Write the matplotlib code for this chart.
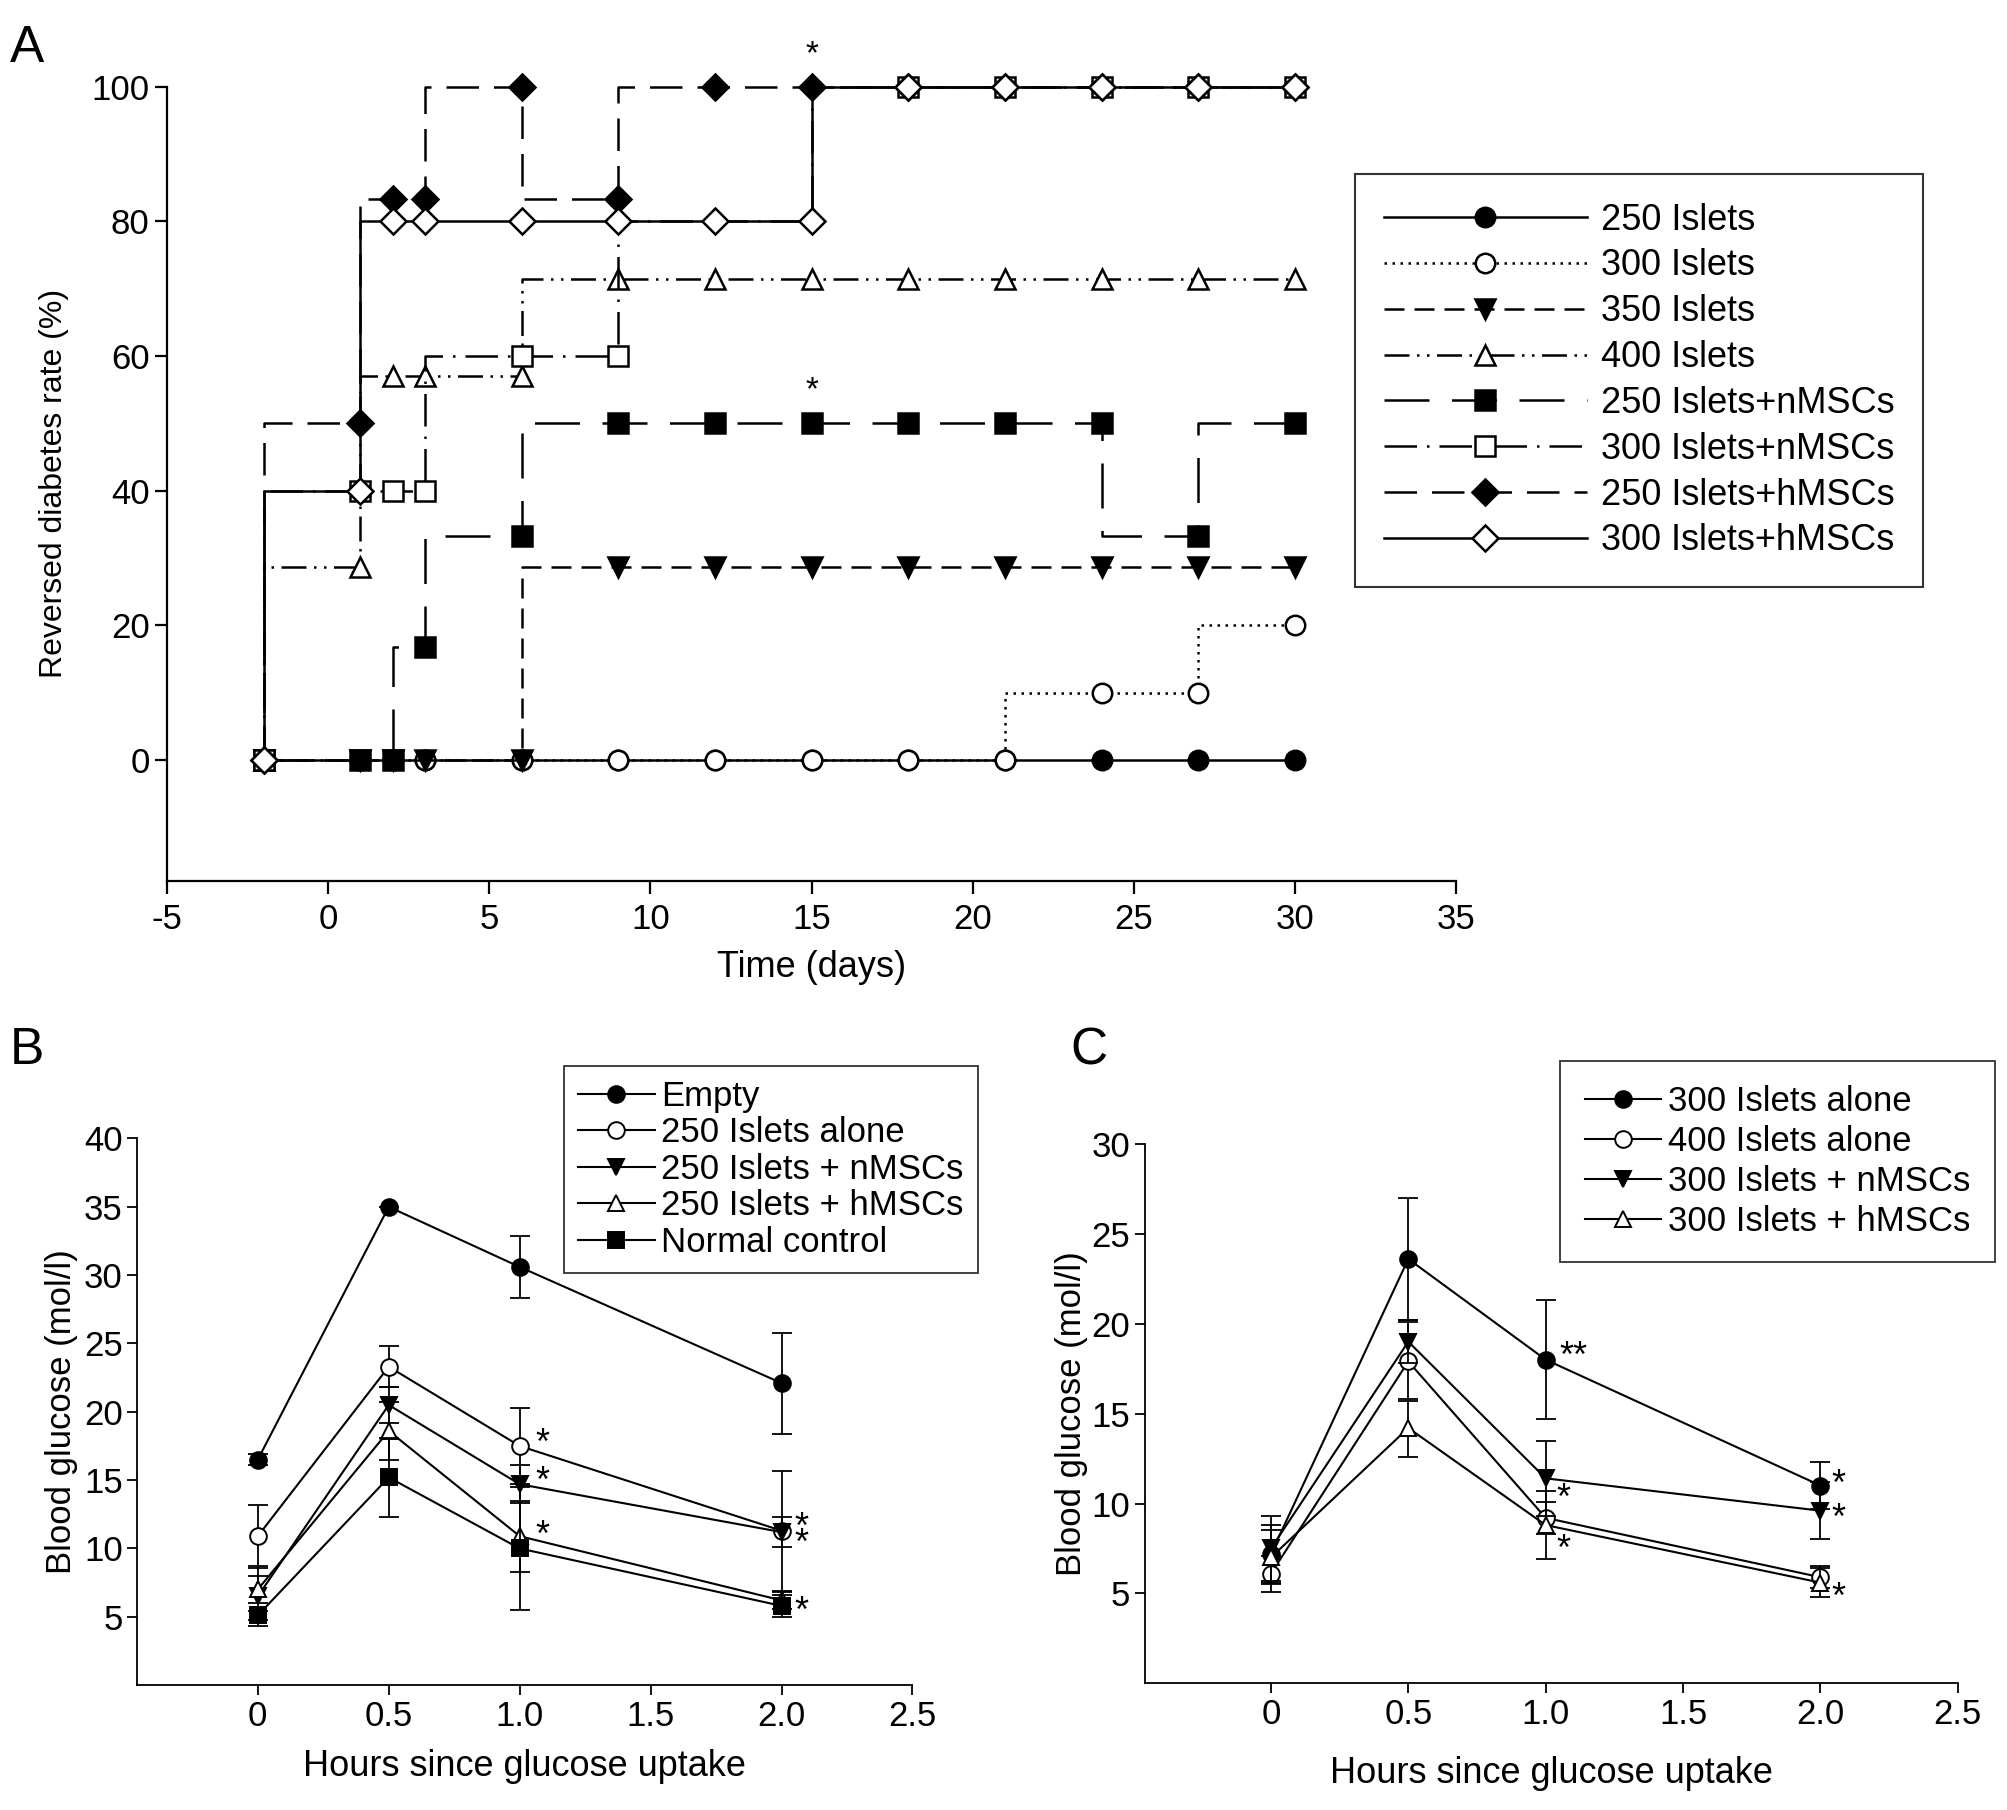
import matplotlib
matplotlib.use("Agg")
import matplotlib.pyplot as plt

plt.rcParams['font.family'] = ['Liberation Sans', 'DejaVu Sans']
plt.rcParams['axes.unicode_minus'] = False

# ---- Panel A: reversed diabetes rate ----
days = [-2, 1, 2, 3, 6, 9, 12, 15, 18, 21, 24, 27, 30]
a_labels = ['250 Islets', '300 Islets', '350 Islets', '400 Islets',
            '250 Islets+nMSCs', '300 Islets+nMSCs', '250 Islets+hMSCs', '300 Islets+hMSCs']
islets250 = [0, 0, 0, 0, 0, 0, 0, 0, 0, 0, 0, 0, 0]
islets300 = [0, 0, 0, 0, 0, 0, 0, 0, 0, 0, 10, 10, 20]
islets350 = [0, 0, 0, 0, 0, 28.6, 28.6, 28.6, 28.6, 28.6, 28.6, 28.6, 28.6]
islets400 = [0, 28.6, 57.1, 57.1, 57.1, 71.4, 71.4, 71.4, 71.4, 71.4, 71.4, 71.4, 71.4]
n250 = [0, 0, 0, 16.7, 33.3, 50, 50, 50, 50, 50, 50, 33.3, 50]
n300 = [0, 40, 40, 40, 60, 60, 80, 80, 100, 100, 100, 100, 100]
h250 = [0, 50, 83.3, 83.3, 100, 83.3, 100, 100, 100, 100, 100, 100, 100]
h300 = [0, 40, 80, 80, 80, 80, 80, 80, 100, 100, 100, 100, 100]
a_series = [islets250, islets300, islets350, islets400, n250, n300, h250, h300]

# ---- Panel B ----
hours = [0, 0.5, 1.0, 2.0]
b_labels = ['Empty', '250 Islets alone', '250 Islets + nMSCs', '250 Islets + hMSCs', 'Normal control']
b_vals = [[16.5, 35.0, 30.6, 22.1],
          [10.9, 23.3, 17.5, 11.3],
          [6.5, 20.5, 14.7, 11.2],
          [7.0, 18.6, 10.9, 6.2],
          [5.1, 15.2, 10.0, 5.8]]
b_err = [[0.4, 0.0, 2.3, 3.7],
         [2.3, 1.5, 2.8, 4.4],
         [2.2, 1.3, 1.4, 1.1],
         [1.0, 2.1, 2.6, 0.6],
         [0.3, 2.9, 4.5, 0.8]]
b_marks = [(1.06, 17.6, '*'), (1.06, 14.8, '*'), (1.06, 10.9, '*'),
           (2.05, 11.5, '*'), (2.05, 10.3, '*'), (2.05, 5.3, '*')]

# ---- Panel C ----
c_labels = ['300 Islets alone', '400 Islets alone', '300 Islets + nMSCs', '300 Islets + hMSCs']
c_vals = [[7.2, 23.6, 18.0, 11.0],
          [6.1, 17.9, 9.2, 5.9],
          [7.5, 19.0, 11.4, 9.6],
          [7.0, 14.2, 8.8, 5.6]]
c_err = [[1.6, 3.4, 3.3, 1.3],
         [1.0, 2.2, 0.9, 0.6],
         [1.8, 1.2, 2.1, 1.6],
         [1.5, 1.6, 1.9, 0.8]]
c_marks = [(1.05, 18.1, '**'), (1.04, 10.2, '*'), (1.04, 7.4, '*'),
           (2.04, 11.0, '*'), (2.04, 9.1, '*'), (2.04, 4.7, '*')]

fig = plt.figure(figsize=(20.08, 18.10), dpi=100)

# panel A styles
a_styles = [
    dict(ls='-', marker='o', mfc='black'),
    dict(ls=(0, (1, 2.2)), marker='o', mfc='white'),
    dict(ls=(0, (8, 4)), marker='v', mfc='black'),
    dict(ls=(0, (10, 3, 1, 3, 1, 3)), marker='^', mfc='white'),
    dict(ls=(0, (18, 9)), marker='s', mfc='black'),
    dict(ls=(0, (13, 4, 1, 4)), marker='s', mfc='white'),
    dict(ls=(0, (13, 6)), marker='D', mfc='black'),
    dict(ls='-', marker='D', mfc='white'),
]

axA = fig.add_axes([0.0832, 0.5133, 0.642, 0.4387])
lines = []
for lab, vals, st in zip(a_labels, a_series, a_styles):
    ms = 13 if st['marker'] == 'D' else 14
    every = None
    if lab == '300 Islets+nMSCs':
        every = [0, 1, 2, 3, 4, 5, 8, 9, 10, 11, 12]
    ln, = axA.plot(days, vals, drawstyle='steps-pre', color='black', lw=1.8,
                   linestyle=st['ls'], marker=st['marker'], mfc=st['mfc'], mec='black',
                   mew=1.8, ms=ms, markevery=every, clip_on=False, label=lab)
    lines.append(ln)
axA.set_xlim(-5, 35)
axA.set_ylim(-18, 100)
axA.set_xticks(range(-5, 36, 5))
axA.set_yticks(range(0, 101, 20))
axA.spines['top'].set_visible(False)
axA.spines['right'].set_visible(False)
for s in ['left', 'bottom']:
    axA.spines[s].set_linewidth(1.6)
axA.tick_params(labelsize=25, width=1.6, length=9)
axA.tick_params(axis='x', pad=7)
axA.set_xlabel('Time (days)', fontsize=26, labelpad=10)
axA.set_ylabel('Reversed diabetes rate (%)', fontsize=23, labelpad=16)
axA.text(15, 102.5, '*', ha='center', va='bottom', fontsize=24)
axA.text(15, 52.5, '*', ha='center', va='bottom', fontsize=24)
legA = fig.legend(handles=lines, loc='upper left', bbox_to_anchor=(0.675, 0.904),
                  fontsize=26, handlelength=5.6, handletextpad=0.4, labelspacing=0.3,
                  borderpad=0.8, borderaxespad=0, frameon=True, fancybox=False,
                  edgecolor='black')
legA.get_frame().set_linewidth(1.5)

fig.text(0.005, 0.987, 'A', fontsize=37, va='top')


def glucose_panel(rect, vals, errs, labels, marks, ylim, yticks, styles, leg_anchor,
                  leg_spacing, leg_pad, ylabelpad, xlabelpad):
    ax = fig.add_axes(rect)
    handles = []
    for v, e, lab, st in zip(vals, errs, labels, styles):
        ax.errorbar(hours, v, yerr=e, color='black', ecolor='black', elinewidth=1.3,
                    capsize=7, capthick=1.3, clip_on=False, fmt='none')
        h, = ax.plot(hours, v, color='black', lw=1.5, marker=st[0], mfc=st[1], mec='black',
                     mew=1.4, ms=12, clip_on=False, label=lab)
        handles.append(h)
    for x, y, t in marks:
        ax.text(x, y, t, ha='left', va='center', fontsize=26)
    ax.set_xlim(-0.46, 2.5)
    ax.set_ylim(*ylim)
    ax.set_yticks(yticks)
    ax.set_xticks([0, 0.5, 1.0, 1.5, 2.0, 2.5])
    ax.set_xticklabels(['0', '0.5', '1.0', '1.5', '2.0', '2.5'])
    ax.spines['top'].set_visible(False)
    ax.spines['right'].set_visible(False)
    for s in ['left', 'bottom']:
        ax.spines[s].set_linewidth(1.3)
    ax.tick_params(labelsize=25, width=1.3, length=7)
    ax.set_xlabel('Hours since glucose uptake', fontsize=26, labelpad=xlabelpad)
    ax.set_ylabel('Blood glucose (mol/l)', fontsize=25, labelpad=ylabelpad)
    leg = fig.legend(handles=handles, loc='upper left', bbox_to_anchor=leg_anchor,
                     fontsize=25, handlelength=2.2, handletextpad=0.2,
                     labelspacing=leg_spacing, borderpad=leg_pad, borderaxespad=0,
                     frameon=True, fancybox=False, edgecolor='black')
    leg.get_frame().set_linewidth(1.3)
    return ax


b_styles = [('o', 'black'), ('o', 'white'), ('v', 'black'), ('^', 'white'), ('s', 'black')]
glucose_panel([0.0684, 0.069, 0.386, 0.302], b_vals, b_err, b_labels, b_marks,
              (0, 40), range(5, 41, 5), b_styles, (0.281, 0.411),
              0.1, 0.4, 4, 12)

c_styles = [('o', 'black'), ('o', 'white'), ('v', 'black'), ('^', 'white')]
glucose_panel([0.570, 0.070, 0.405, 0.298], c_vals, c_err, c_labels, c_marks,
              (0, 30), range(5, 31, 5), c_styles, (0.777, 0.414),
              0.2, 0.7, 2, 18)

fig.text(0.005, 0.433, 'B', fontsize=37, va='top')
fig.text(0.533, 0.433, 'C', fontsize=37, va='top')

fig.savefig('out.png', dpi=100, facecolor='white')
